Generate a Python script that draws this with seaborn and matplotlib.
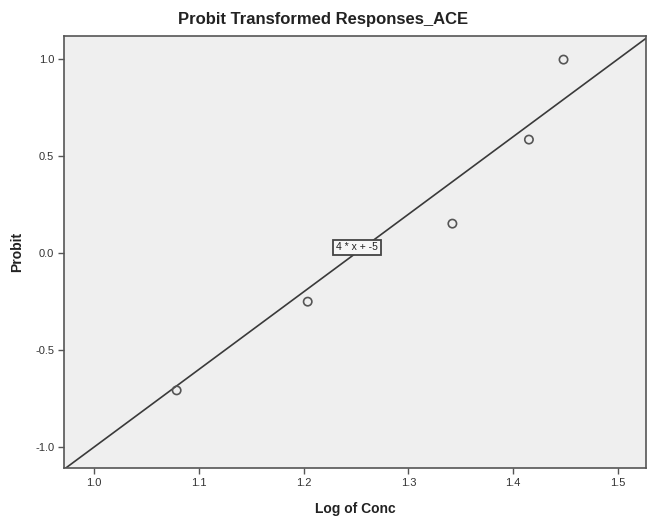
import matplotlib
matplotlib.use("Agg")
import matplotlib.pyplot as plt
import seaborn as sns
import pandas as pd

log_conc = [1.079, 1.204, 1.342, 1.415, 1.448]
probit = [-0.707, -0.250, 0.152, 0.585, 0.997]
slope = 4
intercept = -5
fit_label = "4 * x + -5"
label_pos = (1.251, 0.03)
x_ticks = [1.0, 1.1, 1.2, 1.3, 1.4, 1.5]
y_ticks = [-1.0, -0.5, 0.0, 0.5, 1.0]

sns.set_theme(style="white")
plt.rcParams['font.family'] = ['Liberation Sans', 'DejaVu Sans']

df = pd.DataFrame({"Log of Conc": log_conc, "Probit": probit})

fig = plt.figure(figsize=(6.47, 5.16), dpi=100)
ax = fig.add_axes([0.099, 0.093, 0.9, 0.837])
ax.set_facecolor("#efefef")

ax.axline((0, intercept), slope=slope, color="#3a3a3a", lw=1.2, zorder=2)
sns.scatterplot(data=df, x="Log of Conc", y="Probit", ax=ax, marker="o",
                s=36, facecolor="none", edgecolor="#555555", linewidth=1.2, zorder=3)

ax.set_xlim(0.9716, 1.527)
ax.set_ylim(-1.107, 1.118)
ax.set_xticks(x_ticks)
ax.set_yticks(y_ticks)
ax.set_xticklabels([f"{t:.1f}" for t in x_ticks])
ax.set_yticklabels([f"{t:.1f}" for t in y_ticks])
ax.tick_params(axis="both", which="both", direction="out", length=4, width=1,
               color="#555555", labelsize=8, labelcolor="#333333", bottom=True, left=True, pad=3)

for side in ["left", "bottom", "top", "right"]:
    ax.spines[side].set_color("#555555")
    ax.spines[side].set_linewidth(1.2)

ax.text(label_pos[0], label_pos[1], fit_label, fontsize=7.5, ha="center", va="center",
        color="#222222", zorder=4,
        bbox=dict(boxstyle="square,pad=0.25", facecolor="#f7f7f7", edgecolor="#444444", linewidth=1.3))

ax.set_xlabel("Log of Conc", fontsize=10, fontweight="bold", color="#222222", labelpad=10)
ax.set_ylabel("Probit", fontsize=10, fontweight="bold", color="#222222", labelpad=8)
fig.text(0.5, 0.962, "Probit Transformed Responses_ACE", fontsize=12, fontweight="bold",
         color="#222222", ha="center", va="center")

fig.savefig("out.png", dpi=100)
